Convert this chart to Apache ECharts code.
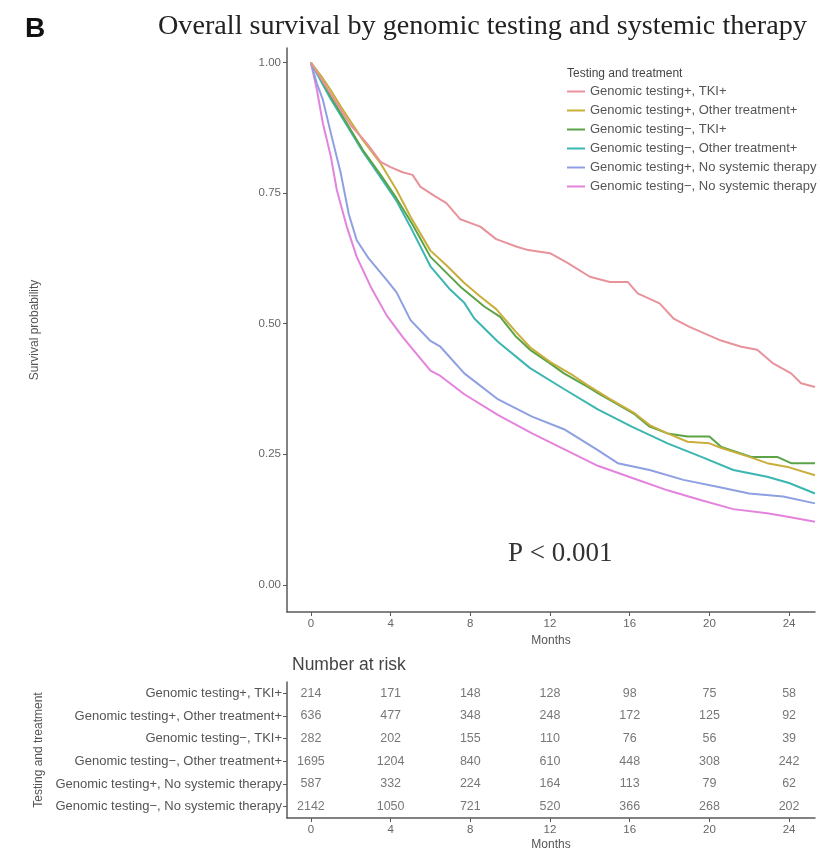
<!DOCTYPE html>
<html>
<head>
<meta charset="utf-8">
<title>Overall survival by genomic testing and systemic therapy</title>
<script src="https://cdn.jsdelivr.net/npm/echarts@6/dist/echarts.min.js"></script>
<style>
  html, body { margin: 0; padding: 0; background: #fff; }
  #chart { width: 820px; height: 856px; }
</style>
</head>
<body>
<div id="chart"></div>
<script>
// groups, in legend order
const groups = [
  "Genomic testing+, TKI+",
  "Genomic testing+, Other treatment+",
  "Genomic testing−, TKI+",
  "Genomic testing−, Other treatment+",
  "Genomic testing+, No systemic therapy",
  "Genomic testing−, No systemic therapy"
];
const colors = ["#e8939b", "#c9ae3c", "#5aa347", "#3cb6b0", "#8fa0e2", "#e383dd"];

// survival curves: [month, probability]
const kmTestTki = [[0,1],[0.5,0.97],[1,0.94],[1.3,0.922],[2,0.88],[2.8,0.846],[3.5,0.81],[4,0.8],[4.6,0.79],[5.1,0.785],[5.5,0.762],[6.2,0.745],[6.8,0.731],[7.5,0.7],[8.5,0.686],[9.3,0.662],[10.3,0.648],[10.9,0.641],[12,0.635],[12.9,0.616],[14,0.59],[15,0.58],[15.9,0.58],[16.4,0.558],[17.5,0.539],[18.2,0.51],[19,0.494],[20.5,0.469],[21.6,0.456],[22.4,0.45],[23.2,0.424],[24.1,0.405],[24.6,0.386],[25.3,0.379]];
const kmTestOther = [[0,1],[0.5,0.975],[1,0.947],[1.5,0.916],[2.6,0.852],[3.5,0.807],[4.3,0.756],[5,0.705],[6,0.64],[6.8,0.612],[7.7,0.578],[8.5,0.552],[9.3,0.528],[10.3,0.484],[11,0.455],[12,0.427],[13.2,0.4],[13.9,0.382],[15,0.356],[16.2,0.33],[17,0.306],[17.9,0.29],[18.9,0.274],[20,0.271],[20.6,0.262],[22,0.245],[22.9,0.233],[24,0.225],[25.3,0.21]];
const kmNoTestTki = [[0,1],[0.5,0.97],[1,0.935],[1.8,0.884],[2.6,0.833],[3.5,0.785],[4.3,0.74],[5.1,0.69],[6,0.628],[7.5,0.571],[8.7,0.533],[9.5,0.513],[10.3,0.475],[11,0.45],[12,0.424],[12.7,0.405],[13.9,0.379],[14.4,0.367],[15,0.354],[16.2,0.328],[17,0.303],[17.9,0.29],[18.9,0.284],[20,0.284],[20.6,0.264],[22.1,0.245],[23.4,0.245],[24.1,0.233],[25.3,0.233]];
const kmNoTestOther = [[0,1],[0.5,0.965],[1,0.93],[1.8,0.88],[2.6,0.83],[3.5,0.78],[4.3,0.735],[5,0.685],[6,0.61],[7,0.565],[7.7,0.54],[8.2,0.51],[9.4,0.465],[11,0.415],[12.7,0.375],[14.4,0.336],[16.1,0.303],[17.9,0.271],[19.6,0.245],[21.2,0.22],[22.9,0.207],[24,0.195],[25.3,0.175]];
const kmTestNone = [[0,1],[0.3,0.96],[0.6,0.929],[1,0.865],[1.5,0.788],[1.9,0.71],[2.3,0.66],[2.9,0.625],[3.8,0.584],[4.3,0.56],[5,0.507],[6,0.467],[6.5,0.456],[7.7,0.405],[9.4,0.355],[11.1,0.322],[12.7,0.298],[14.4,0.258],[15.4,0.233],[17,0.22],[18.7,0.201],[20.4,0.188],[22,0.175],[23.7,0.169],[25.3,0.156]];
const kmNoTestNone = [[0,1],[0.3,0.948],[0.6,0.884],[1,0.82],[1.3,0.756],[1.8,0.686],[2.3,0.628],[3,0.571],[3.8,0.516],[4.6,0.475],[5,0.456],[6,0.41],[6.5,0.4],[7.7,0.365],[9.4,0.325],[11.1,0.29],[12.7,0.26],[14.4,0.228],[16.1,0.205],[17.9,0.181],[19.6,0.162],[21.2,0.145],[22.9,0.137],[24,0.13],[25.3,0.121]];
const curves = [kmTestTki, kmTestOther, kmNoTestTki, kmNoTestOther, kmTestNone, kmNoTestNone];

// number at risk table
const riskMonths = [0, 4, 8, 12, 16, 20, 24];
const riskCounts = [
  [214, 171, 148, 128, 98, 75, 58],
  [636, 477, 348, 248, 172, 125, 92],
  [282, 202, 155, 110, 76, 56, 39],
  [1695, 1204, 840, 610, 448, 308, 242],
  [587, 332, 224, 164, 113, 79, 62],
  [2142, 1050, 721, 520, 366, 268, 202]
];
const yTicks = [0, 0.25, 0.5, 0.75, 1];

const sans = "Liberation Sans, Arial, sans-serif";
const serif = "Liberation Serif, Times New Roman, serif";
const axisGrey = "#5a5a5a";

const riskData = [];
riskCounts.forEach((row, i) => {
  row.forEach((n, j) => riskData.push([riskMonths[j], groups[i], n]));
});

// both panels share the month axis
function monthAxis(gridIndex, gap) {
  return {
    type: "value", gridIndex: gridIndex, min: -1.2, max: 25.3,
    name: "Months", nameLocation: "middle", nameGap: gap,
    nameTextStyle: { fontSize: 12, color: "#555" },
    axisLine: { show: true, onZero: false, lineStyle: { color: axisGrey, width: 1.5 } },
    axisTick: { show: true, customValues: riskMonths, length: 4, lineStyle: { color: axisGrey } },
    axisLabel: { show: true, customValues: riskMonths, fontSize: 11.5, color: "#666", margin: 6 },
    splitLine: { show: false }
  };
}

const chart = echarts.init(document.getElementById("chart"));
chart.setOption({
  animation: false,
  backgroundColor: "#fff",
  color: colors,
  textStyle: { fontFamily: sans },
  title: [
    { text: "B", left: 20, top: 10, textStyle: { fontFamily: sans, fontSize: 28, fontWeight: "bold", color: "#111" } },
    { text: "Overall survival by genomic testing and systemic therapy", left: 153, top: 8,
      textStyle: { fontFamily: serif, fontSize: 28.2, fontWeight: "normal", color: "#222" } },
    { text: "Testing and treatment", left: 562, top: 63, textStyle: { fontSize: 12, fontWeight: "normal", color: "#444" } },
    { text: "P < 0.001", left: 503, top: 535, textStyle: { fontFamily: serif, fontSize: 27, fontWeight: "normal", color: "#333" } },
    { text: "Number at risk", left: 287, top: 651, textStyle: { fontSize: 17.5, fontWeight: "normal", color: "#444" } }
  ],
  legend: {
    orient: "vertical",
    left: 562,
    top: 80,
    itemWidth: 18,
    itemHeight: 13,
    itemGap: 6,
    icon: "path://M0,5 L18,5 L18,7 L0,7 Z",
    textStyle: { fontSize: 13, color: "#555" },
    data: groups
  },
  grid: [
    { left: 287, top: 48, width: 528, height: 564 },
    { left: 287, top: 682, width: 528, height: 136 }
  ],
  xAxis: [monthAxis(0, 22), monthAxis(1, 21)],
  yAxis: [
    {
      type: "value", gridIndex: 0, min: -0.052, max: 1.028,
      name: "Survival probability", nameLocation: "middle", nameGap: 246,
      nameTextStyle: { fontSize: 12, color: "#555" },
      axisLine: { show: true, onZero: false, lineStyle: { color: axisGrey, width: 1.5 } },
      axisTick: { show: true, customValues: yTicks, length: 4, lineStyle: { color: axisGrey } },
      axisLabel: { customValues: yTicks, fontSize: 11.5, color: "#666", margin: 6, formatter: v => v.toFixed(2) },
      splitLine: { show: false }
    },
    {
      type: "category", gridIndex: 1, inverse: true, data: groups,
      name: "Testing and treatment", nameLocation: "middle", nameGap: 240,
      nameTextStyle: { fontSize: 12, color: "#555" },
      axisLine: { show: true, onZero: false, lineStyle: { color: axisGrey, width: 1.5 } },
      axisTick: { show: true, alignWithLabel: true, length: 4, lineStyle: { color: axisGrey } },
      axisLabel: { fontSize: 13, color: "#555", margin: 5 },
      splitLine: { show: false }
    }
  ],
  series: curves.map((pts, i) => ({
    name: groups[i],
    type: "line",
    xAxisIndex: 0,
    yAxisIndex: 0,
    data: pts,
    symbol: "none",
    lineStyle: { width: 2, color: colors[i] },
    z: 10 - i
  })).concat([{
    name: "risk",
    type: "scatter",
    xAxisIndex: 1,
    yAxisIndex: 1,
    data: riskData,
    symbolSize: 0,
    label: {
      show: true, position: "inside", fontSize: 12.5, color: "#555",
      formatter: p => p.value[2]
    }
  }])
});
</script>
</body>
</html>
